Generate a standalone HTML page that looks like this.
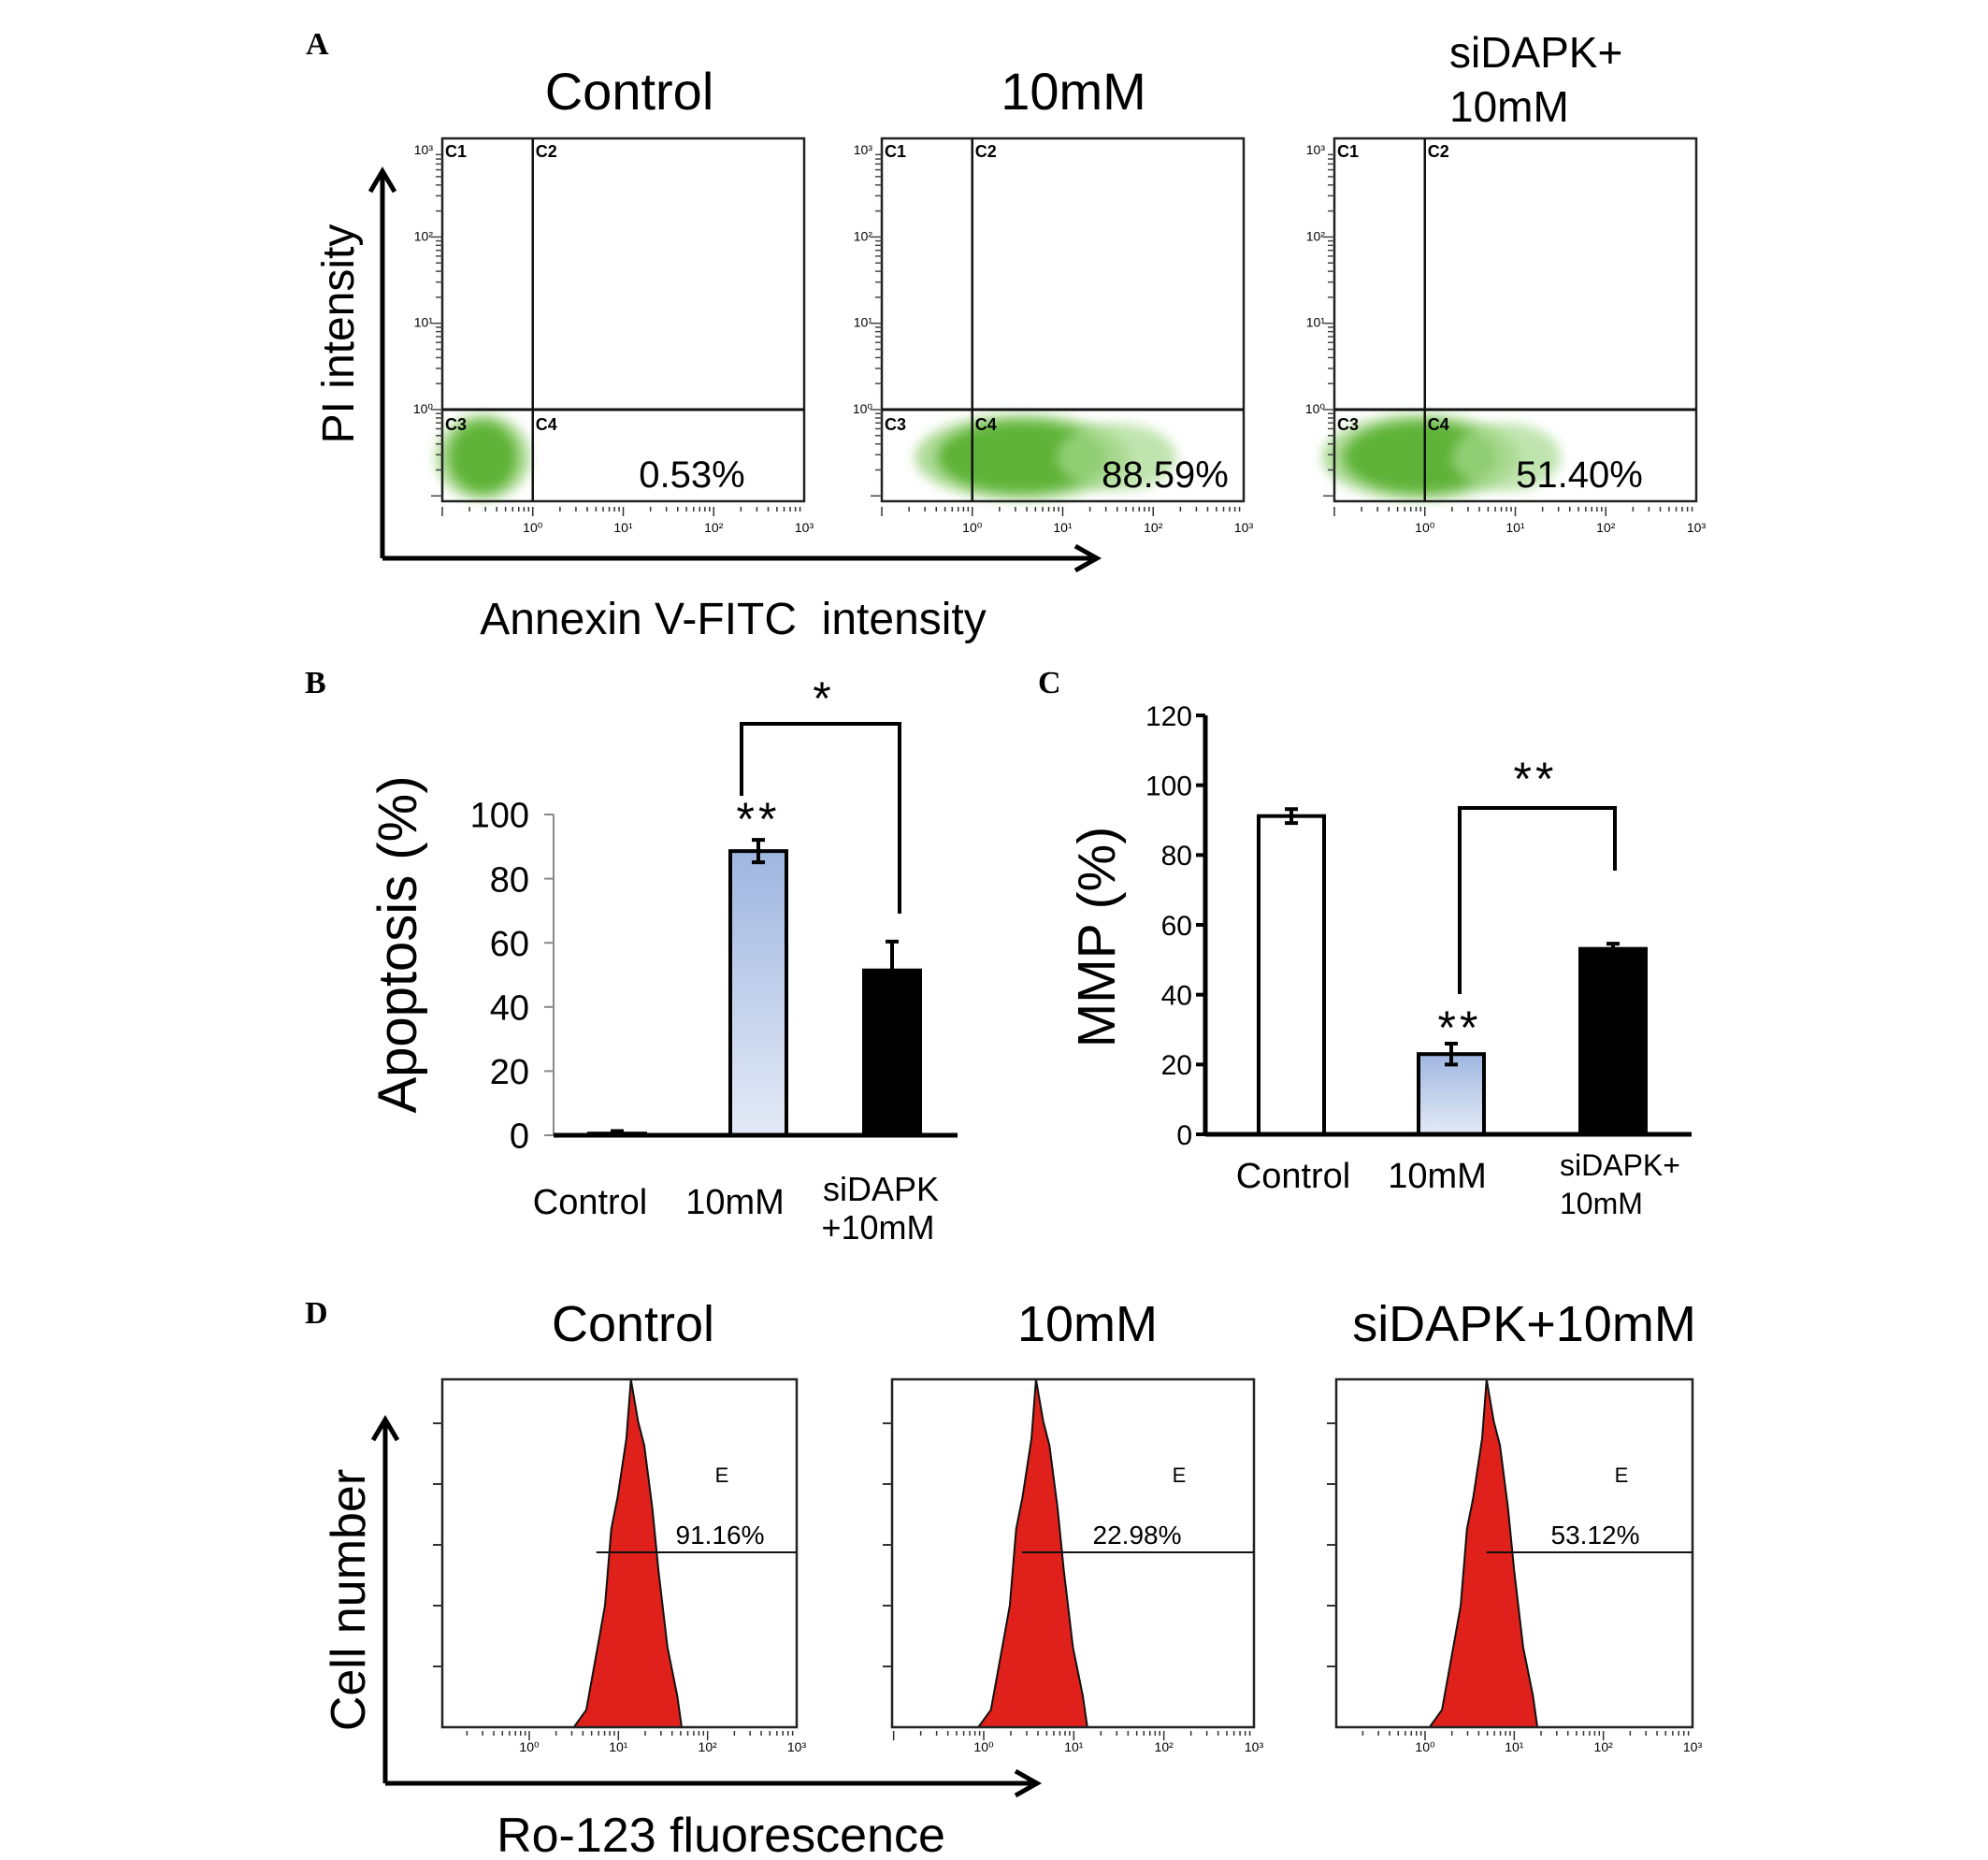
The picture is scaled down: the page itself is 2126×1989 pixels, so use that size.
<!DOCTYPE html>
<html><head><meta charset="utf-8"><style>
html,body{margin:0;padding:0;background:#fff}
svg{display:block}
text{font-family:"Liberation Sans",sans-serif;fill:#000}
.lbl{font-family:"Liberation Serif",serif;font-weight:bold;font-size:34px}
</style></head><body>
<svg id="fig" width="2126" height="1989" viewBox="0 0 2126 1989" xmlns="http://www.w3.org/2000/svg">
<defs>
<linearGradient id="blueg" x1="0" y1="0" x2="0" y2="1"><stop offset="0" stop-color="#9fb6e0"/><stop offset="1" stop-color="#e4eaf6"/></linearGradient>
<filter id="blur" x="-50%" y="-50%" width="200%" height="200%"><feGaussianBlur stdDeviation="6"/></filter>
</defs>
<g id="panelA"></g>
<g id="panelB"></g>
<g id="panelC"></g>
<g id="panelD"></g>
</svg>
<script>
// ---------- data ----------
const groups = ["Control", "10mM", "siDAPK+10mM"];
const apoptosis = [0.53, 88.59, 51.40];
const apoptosisErr = [0.8, 3.5, 9.0];
const apoTicks = [0, 20, 40, 60, 80, 100];
const mmp = [91.16, 22.98, 53.12];
const mmpErr = [2.0, 3.0, 1.5];
const mmpTicks = [0, 20, 40, 60, 80, 100, 120];
const scatterPct = ["0.53%", "88.59%", "51.40%"];
const histPct = ["91.16%", "22.98%", "53.12%"];
// scatter cloud centres (log10 units): x, y, x-spread
const cloudX = [-0.55, 0.55, -0.05];
const cloudY = [-0.55, -0.55, -0.55];
const cloudSpread = [0.44, 1.1, 1.0];
// histogram peak position (log10) and common shape (log offset from peak, relative height)
const histPeak = [1.14, 0.58, 0.69];
const shapeOffset = [-0.64,-0.50,-0.36,-0.29,-0.22,-0.15,-0.05,0,0.08,0.15,0.24,0.31,0.41,0.52,0.57];
const shapeHeight = [0,0.05,0.25,0.35,0.57,0.66,0.83,1.0,0.88,0.81,0.63,0.45,0.23,0.09,0];
const logTicks = ["10\u2070","10\u00b9","10\u00b2","10\u00b3"];

const NS="http://www.w3.org/2000/svg";
function mk(parent, tag, attrs, txt){const e=document.createElementNS(NS,tag);for(const k in attrs)e.setAttribute(k,attrs[k]);if(txt!==undefined)e.textContent=txt;parent.appendChild(e);return e;}

// ---------- Panel A ----------
const A=document.getElementById('panelA');
let t=mk(A,'text',{x:327,y:58,class:'lbl'},'A');

const aPlots=[{l:473,r:860},{l:943,r:1330},{l:1427,r:1814}];
const aTitles=[["Control"],["10mM"],["siDAPK+","10mM"]];
const aTitleX=[673,1148,1550];
aPlots.forEach((p,i)=>{
  const top=148,bot=536,g=mk(A,'g',{});
  
  const dec=(p.r-p.l)/4;
  const xs=v=>p.l+(v+1)*dec;
  const ys=v=>438-v*92.3;
  if(aTitles[i].length===1){
    t=mk(g,'text',{x:aTitleX[i],y:117,'font-size':56,'text-anchor':'middle'},aTitles[i][0]);
  } else {
    t=mk(g,'text',{x:aTitleX[i],y:72,'font-size':46},aTitles[i][0]);
    mk(g,'text',{x:aTitleX[i],y:130,'font-size':46},aTitles[i][1]);
  }
  
  const cx=xs(cloudX[i]),cy=ys(cloudY[i]);
  mk(g,'ellipse',{cx:cx,cy:cy,rx:cloudSpread[i]*dec+8,ry:46,fill:'#8ccc6c',filter:'url(#blur)',opacity:0.7});
  const c=mk(g,'ellipse',{cx:cx,cy:cy,rx:cloudSpread[i]*dec*0.85,ry:38,fill:'#5fb338',filter:'url(#blur)'});
  
  if(i>0){mk(g,'ellipse',{cx:cx+cloudSpread[i]*dec*0.95,cy:cy,rx:cloudSpread[i]*dec*0.6,ry:36,fill:'#a6d98d',filter:'url(#blur)',opacity:0.7});}
  mk(g,'rect',{x:p.l,y:top,width:p.r-p.l,height:bot-top,fill:'none',stroke:'#222','stroke-width':2.5});
  mk(g,'line',{x1:xs(0),y1:top,x2:xs(0),y2:bot,stroke:'#111','stroke-width':2.5});
  mk(g,'line',{x1:p.l,y1:ys(0),x2:p.r,y2:ys(0),stroke:'#111','stroke-width':3});
  [["C1",p.l+3,top+20],["C2",xs(0)+3,top+20],["C3",p.l+3,ys(0)+22],["C4",xs(0)+3,ys(0)+22]].forEach(q=>mk(g,'text',{x:q[1],y:q[2],'font-size':18,'font-weight':'bold'},q[0]));
  for(let d=0;d<4;d++){for(let m=1;m<=9;m++){const v=d-1+Math.log10(m);const x=xs(v);mk(g,'line',{x1:x,y1:bot+6,x2:x,y2:bot+(m===1?16:11),stroke:'#333','stroke-width':1.5});}}
  for(let k=0;k<4;k++){mk(g,'text',{x:xs(k),y:bot+33,'font-size':14,'text-anchor':'middle',fill:'#444'},logTicks[k]);
    mk(g,'text',{x:p.l-10,y:ys(k)+4,'font-size':14,'text-anchor':'end',fill:'#444'},logTicks[k]);
    for(let m=1;m<=9;m++){const y=ys(k-1+Math.log10(m));if(y>bot||y<top)continue;mk(g,'line',{x1:p.l-(m===1?12:7),y1:y,x2:p.l,y2:y,stroke:'#444','stroke-width':1.5});}}
  t=mk(g,'text',{x:[740,1246,1689][i],y:521,'font-size':40,'text-anchor':'middle'},scatterPct[i]);
  
});
mk(A,'path',{d:'M409,597 L409,185 M396,205 L409,183 L422,205 M409,597 L1172,597 M1150,584 L1173,597 L1150,610',stroke:'#000','stroke-width':5,fill:'none'});
t=mk(A,'text',{x:0,y:0,'font-size':48,'text-anchor':'middle',transform:'translate(378,357) rotate(-90)'},'PI intensity');

t=mk(A,'text',{x:784,y:678,'font-size':48,'text-anchor':'middle'},'Annexin V-FITC\u00a0\u00a0intensity');


// ---------- bar chart helper ----------
function barChart(P,o){
  const y=v=>o.y0-v*(o.y0-o.yTop)/o.vmax;
  o.ticks.forEach(v=>{mk(P,'line',{x1:o.ax-(o.tickOut),y1:y(v),x2:o.ax,y2:y(v),stroke:o.tickCol,'stroke-width':o.tickW});
    const tt=mk(P,'text',{x:o.ax-o.labGap,y:y(v)+o.fs*0.36,'font-size':o.fs,'text-anchor':'end'},String(v));
    });
  mk(P,'line',{x1:o.ax,y1:y(o.ticks[o.ticks.length-1]),x2:o.ax,y2:o.y0,stroke:o.tickCol,'stroke-width':o.axW});
  o.vals.forEach((v,i)=>{
    const cx=o.centers[i],w=o.bw;
    const r=mk(P,'rect',{x:cx-w/2,y:y(v),width:w,height:o.y0-y(v),fill:o.fills[i],stroke:'#000','stroke-width':4});
    
    const e=o.errs[i];
    const eb=mk(P,'path',{d:`M${cx},${y(v+e)} L${cx},${y(Math.max(v-e,0))} M${cx-7},${y(v+e)} L${cx+7},${y(v+e)} M${cx-7},${y(Math.max(v-e,0))} L${cx+7},${y(Math.max(v-e,0))}`,stroke:'#000','stroke-width':4,fill:'none'});
    
  });
  mk(P,'line',{x1:o.ax,y1:o.y0,x2:o.xEnd,y2:o.y0,stroke:'#000','stroke-width':5});
  return y;
}
// ---------- Panel B ----------
const B=document.getElementById('panelB');
t=mk(B,'text',{x:326,y:741,class:'lbl'},'B');
barChart(B,{y0:1214,yTop:871,vmax:100,ax:592,xEnd:1024,ticks:apoTicks,vals:apoptosis,errs:apoptosisErr,
  centers:[660,811,954],bw:60,fills:['#000','url(#blueg)','#000'],fs:38,labGap:26,tickOut:10,tickCol:'#888',tickW:2,axW:2});
mk(B,'path',{d:`M793,851 L793,774 L962,774 L962,977`,stroke:'#000','stroke-width':4,fill:'none'});
mk(B,'text',{x:879,y:764,'font-size':50,'text-anchor':'middle'},'*');
mk(B,'text',{x:811,y:893,'font-size':50,'text-anchor':'middle','letter-spacing':4},'**');
t=mk(B,'text',{x:0,y:0,'font-size':58,'text-anchor':'middle',transform:'translate(445,1010) rotate(-90)'},'Apoptosis (%)');

mk(B,'text',{x:631,y:1298,'font-size':38,'text-anchor':'middle'},'Control');
mk(B,'text',{x:786,y:1298,'font-size':38,'text-anchor':'middle'},'10mM');
mk(B,'text',{x:942,y:1284,'font-size':36,'text-anchor':'middle'},'siDAPK');
mk(B,'text',{x:939,y:1325,'font-size':36,'text-anchor':'middle'},'+10mM');
// ---------- Panel C ----------
const C=document.getElementById('panelC');
t=mk(C,'text',{x:1110,y:741,class:'lbl'},'C');
barChart(C,{y0:1213,yTop:765,vmax:120,ax:1289,xEnd:1809,ticks:mmpTicks,vals:mmp,errs:mmpErr,
  centers:[1381,1552,1725],bw:70,fills:['#fff','url(#blueg)','#000'],fs:30,labGap:14,tickOut:10,tickCol:'#000',tickW:4,axW:5});
mk(C,'path',{d:`M1561,1063 L1561,864 L1727,864 L1727,931`,stroke:'#000','stroke-width':4,fill:'none'});
mk(C,'text',{x:1642,y:850,'font-size':50,'text-anchor':'middle','letter-spacing':4},'**');
mk(C,'text',{x:1561,y:1116,'font-size':50,'text-anchor':'middle','letter-spacing':4},'**');
t=mk(C,'text',{x:0,y:0,'font-size':57,'text-anchor':'middle',transform:'translate(1192,1002) rotate(-90)'},'MMP (%)');

mk(C,'text',{x:1383,y:1270,'font-size':38,'text-anchor':'middle'},'Control');
mk(C,'text',{x:1537,y:1270,'font-size':38,'text-anchor':'middle'},'10mM');
mk(C,'text',{x:1668,y:1257,'font-size':32},'siDAPK+');
mk(C,'text',{x:1668,y:1298,'font-size':32},'10mM');
// ---------- Panel D ----------
const D=document.getElementById('panelD');
t=mk(D,'text',{x:326,y:1415,class:'lbl'},'D');
const dPlots=[{l:473,r:852,z:566},{l:954,r:1341,z:1052},{l:1429,r:1810,z:1524}];
const dTitleX=[677,1163,1630];
dPlots.forEach((p,i)=>{
  const top=1475,bot=1847,g=mk(D,'g',{});
  
  const dec=(p.r-p.z)/3;
  const xs=v=>p.z+v*dec;
  const hy=h=>bot-h*(bot-top);
  t=mk(g,'text',{x:dTitleX[i],y:1434,'font-size':54,'text-anchor':'middle'},groups[i]);
  
  let d='';
  shapeOffset.forEach((o,k)=>{d+=(k?'L':'M')+xs(histPeak[i]+o).toFixed(1)+','+hy(shapeHeight[k]).toFixed(1);});
  const h=mk(g,'path',{d:d+'Z',fill:'#e0201a',stroke:'#111','stroke-width':2});
  
  mk(g,'rect',{x:p.l,y:top,width:p.r-p.l,height:bot-top,fill:'none',stroke:'#222','stroke-width':2.5});
  for(let k=1;k<=5;k++){const y=bot-k*65;mk(g,'line',{x1:p.l-10,y1:y,x2:p.l,y2:y,stroke:'#333','stroke-width':2});}
  for(let dd=-1;dd<3;dd++){for(let m=1;m<=9;m++){const x=xs(dd+Math.log10(m));if(x<p.l)continue;mk(g,'line',{x1:x,y1:bot+4,x2:x,y2:bot+(m===1?14:9),stroke:'#333','stroke-width':1.5});}}
  for(let k=0;k<4;k++)mk(g,'text',{x:xs(k),y:bot+26,'font-size':14,'text-anchor':'middle',fill:'#444'},logTicks[k]);
  mk(g,'line',{x1:xs(histPeak[i])-[37,15,0][i],y1:1660,x2:p.r,y2:1660,stroke:'#111','stroke-width':2});
  mk(g,'text',{x:[772,1261,1734][i],y:1585,'font-size':22,'text-anchor':'middle'},'E');
  t=mk(g,'text',{x:[770,1216,1706][i],y:1651,'font-size':28,'text-anchor':'middle'},histPct[i]);
  
});
mk(D,'path',{d:'M412,1907 L412,1520 M399,1540 L412,1518 L425,1540 M412,1907 L1108,1907 M1086,1894 L1109,1907 L1086,1920',stroke:'#000','stroke-width':5,fill:'none'});
t=mk(D,'text',{x:0,y:0,'font-size':52,'text-anchor':'middle',transform:'translate(390,1711) rotate(-90)'},'Cell number');

t=mk(D,'text',{x:771,y:1980,'font-size':52,'text-anchor':'middle'},'Ro-123 fluorescence');

</script>
</body></html>
